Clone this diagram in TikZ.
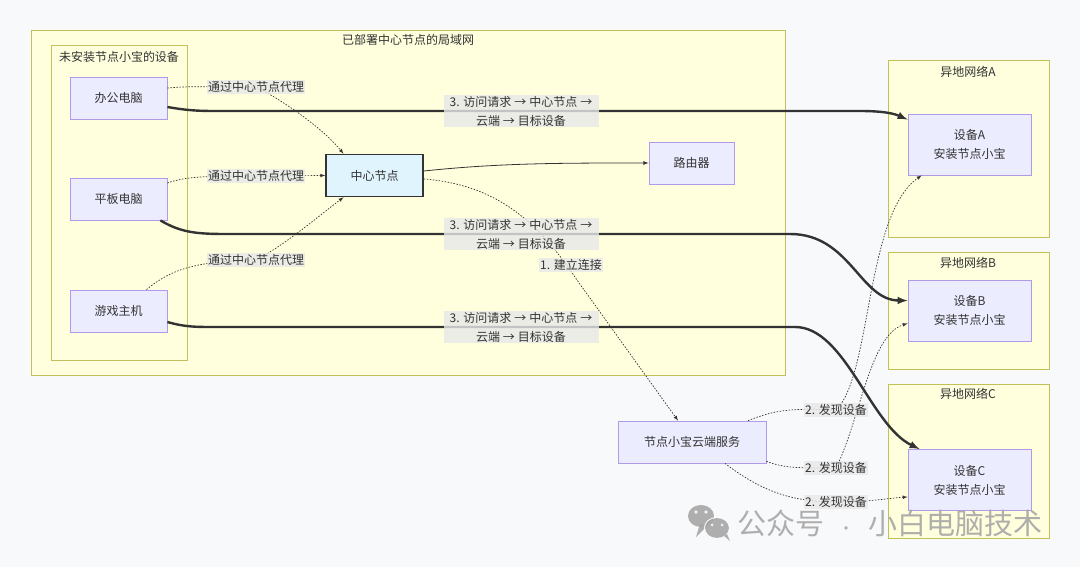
\documentclass[tikz,border=0pt]{standalone}
\usepackage{fontspec}
\setmainfont{Noto Sans CJK SC}
\usetikzlibrary{arrows}

\definecolor{pagebg}{HTML}{F8F9FB}
\definecolor{clusterbg}{HTML}{FFFFDE}
\definecolor{clusterline}{HTML}{C2C05A}
\definecolor{nodebg}{HTML}{ECECFF}
\definecolor{nodeline}{HTML}{B29AEA}
\definecolor{hubbg}{HTML}{E0F4FD}
\definecolor{inkcol}{HTML}{333333}
\definecolor{labelbg}{HTML}{E8E8E8}
\definecolor{markgray}{HTML}{A6A6A6}

\newcommand{\lto}{\hspace{3pt}→\hspace{3pt}}

\begin{document}
\begin{tikzpicture}[x=1pt, y=-1pt, >=latex,
		every node/.style={font=\fontsize{12}{19}\selectfont, text=inkcol},
		cluster/.style={draw=clusterline, fill=clusterbg, line width=0.8pt},
		device/.style={draw=nodeline, fill=nodebg, line width=0.8pt, minimum width=97pt, minimum height=42pt},
		remote/.style={device, minimum width=123pt, minimum height=61pt, align=center},
		elabel/.style={fill=labelbg, fill opacity=0.8, text opacity=1, inner sep=1pt, align=center},
		route/.style={elabel, minimum width=155pt},
		proxy/.style={->, draw=inkcol, line width=0.7pt, dash pattern=on 1.5pt off 1.5pt},
		access/.style={->, draw=inkcol, line width=2.4pt}]
		\fill [pagebg] (0, 0) rectangle (1080, 567);

		% networks
		\draw [cluster] (31, 30) rectangle (785, 375);
		\node (lantitle) at (408, 40) {已部署中心节点的局域网};
		\draw [cluster] (51, 45) rectangle (187, 360);
		\node (oldtitle) at (119, 57) {未安装节点小宝的设备};
		\draw [cluster] (888, 60) rectangle (1049, 237);
		\node (netatitle) at (968, 72) {异地网络A};
		\draw [cluster] (888, 252) rectangle (1049, 369);
		\node (netbtitle) at (968, 263) {异地网络B};
		\draw [cluster] (888, 384) rectangle (1049, 538);
		\node (netctitle) at (968, 394) {异地网络C};

		% devices
		\node [device] (pc) at (118.5, 98) {办公电脑};
		\node [device] (pad) at (118.5, 199) {平板电脑};
		\node [device] (game) at (118.5, 311) {游戏主机};
		\node [device, fill=hubbg, draw=inkcol, line width=1.6pt] (hub) at (374.5, 175.5) {中心节点};
		\node [device, minimum width=85pt] (router) at (691.5, 163) {路由器};
		\node [device, minimum width=148pt] (cloud) at (692, 442) {节点小宝云端服务};
		\node [remote] (deva) at (969.5, 144.5) {设备A\\安装节点小宝};
		\node [remote] (devb) at (969.5, 310.5) {设备B\\安装节点小宝};
		\node [remote] (devc) at (969.5, 480) {设备C\\安装节点小宝};

		\coordinate (lp1) at (256, 87);
		\coordinate (lp2) at (256, 176);
		\coordinate (lp3) at (256, 260);
		\coordinate (la1) at (521, 111);
		\coordinate (la2) at (521, 234);
		\coordinate (la3) at (521, 327);
		\coordinate (lc) at (571, 265);
		\coordinate (ld1) at (836, 410);
		\coordinate (ld2) at (836, 468);
		\coordinate (ld3) at (836, 502);

		% proxy through the hub
		\draw [proxy] ([yshift=10pt]pc.east) .. controls (190, 86) and (200, 87) .. (lp1)
			.. controls (275, 96) and (320, 125) .. ([xshift=-31pt]hub.north);
		\draw [proxy] ([yshift=16pt]pad.east) .. controls (185, 177) and (200, 176) .. (lp2) -- (hub.west);
		\draw [proxy] ([xshift=28pt]game.north) .. controls (170, 270) and (195, 261) .. (lp3)
			.. controls (285, 245) and (320, 215) .. ([xshift=-31pt]hub.south);

		% access to the remote devices
		\draw [access] ([yshift=-9pt]pc.east) .. controls (185, 110) and (195, 111) .. (215, 111)
			-- (860, 111) .. controls (885, 111) and (895, 114) .. ([yshift=-6pt]deva.north west);
		\draw [access] ([xshift=-7pt]pad.south east) .. controls (180, 232) and (195, 234) .. (225, 234)
			-- (790, 234) .. controls (850, 234) and (860, 300) .. ([yshift=-21pt]devb.north west);
		\draw [access] ([yshift=-11pt]game.east) .. controls (185, 327) and (195, 327) .. (215, 327)
			-- (795, 327) .. controls (845, 327) and (870, 425) .. ([xshift=12pt]devc.north west);

		\draw [->, draw=inkcol, line width=0.8pt] ([yshift=4.5pt]hub.east) .. controls (500, 163) and (560, 163) .. (router.west);
		\draw [proxy] ([yshift=-3.5pt]hub.east) .. controls (500, 185) and (540, 225) .. (577, 280)
			-- ([xshift=-14pt]cloud.north);

		% discovery
		\draw [proxy] ([xshift=56pt]cloud.north) .. controls (775, 410) and (790, 408) .. (ld1)
			.. controls (872, 375) and (865, 215) .. ([xshift=14pt]deva.south west);
		\draw [proxy] ([yshift=2pt]cloud.south east) .. controls (785, 468) and (795, 468) .. (ld2)
			.. controls (860, 420) and (870, 335) .. ([yshift=18pt]devb.south west);
		\draw [proxy] ([xshift=33pt]cloud.south) .. controls (760, 490) and (790, 502) .. (ld3)
			.. controls (870, 502) and (890, 498) .. ([yshift=-17pt]devc.west);

		% edge labels
		\node [elabel] (lp1txt) at (lp1) {通过中心节点代理};
		\node [elabel] (lp2txt) at (lp2) {通过中心节点代理};
		\node [elabel] (lp3txt) at (lp3) {通过中心节点代理};
		\node [route] (la1txt) at (la1) {3. 访问请求\lto 中心节点\lto\\云端\lto 目标设备};
		\node [route] (la2txt) at (la2) {3. 访问请求\lto 中心节点\lto\\云端\lto 目标设备};
		\node [route] (la3txt) at (la3) {3. 访问请求\lto 中心节点\lto\\云端\lto 目标设备};
		\node [elabel] (lctxt) at (lc) {1. 建立连接};
		\node [elabel] (ld1txt) at (ld1) {2. 发现设备};
		\node [elabel] (ld2txt) at (ld2) {2. 发现设备};
		\node [elabel] (ld3txt) at (ld3) {2. 发现设备};

		% watermark
		\begin{scope}[opacity=0.9]
			\fill [markgray] (701, 516) ellipse (13 and 11);
			\fill [markgray] (708, 525) -- (696, 537) -- (700, 524) -- cycle;
			\draw [pagebg, line width=1.2pt] (717, 528) ellipse (12.5 and 10.5);
			\fill [markgray] (717, 528) ellipse (11.9 and 9.9);
			\fill [markgray] (724, 536) -- (730, 541) -- (727, 534) -- cycle;
			\fill [pagebg] (696, 512) circle (1.8) (706, 512) circle (1.8);
			\fill [pagebg] (712, 525) circle (1.5) (722, 525) circle (1.5);
		\end{scope}
		\node [text=markgray, text opacity=0.9, font=\fontsize{29}{32}\selectfont, anchor=west, inner sep=0pt] (mark) at (737, 523)
			{公众号\hspace{14pt}{\fontsize{16}{18}\selectfont ·}\hspace{14pt}小白电脑技术};
	\end{tikzpicture}
\end{document}
